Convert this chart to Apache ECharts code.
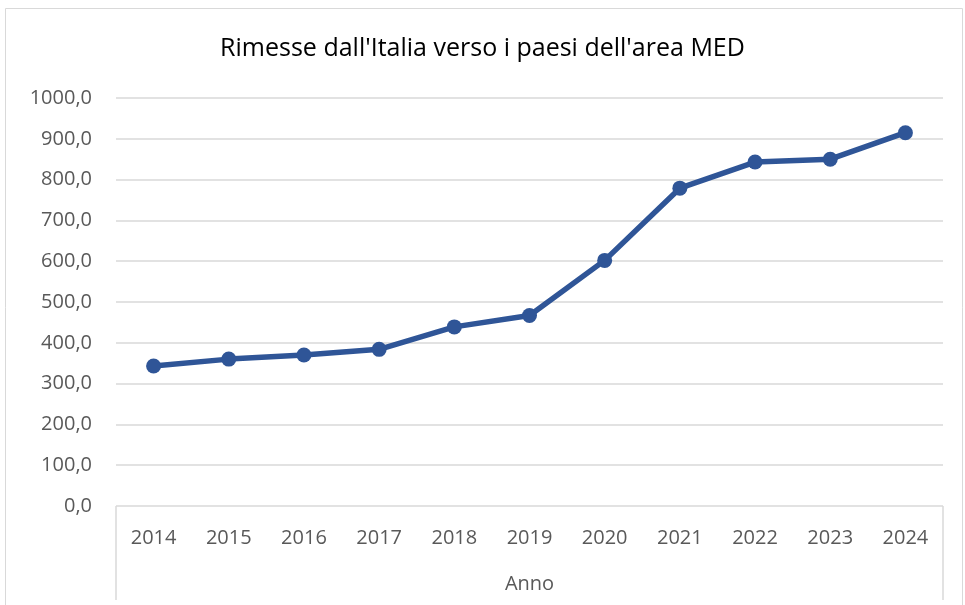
<!DOCTYPE html>
<html>
<head>
<meta charset="utf-8">
<script src="https://cdn.jsdelivr.net/npm/echarts@6/dist/echarts.min.js"></script>
<style>
  html, body { margin: 0; padding: 0; background: #fff; }
  #chart { width: 965px; height: 605px; }
</style>
</head>
<body>
<div id="chart"></div>
<script>
// dati
const anni = ['2014', '2015', '2016', '2017', '2018', '2019', '2020', '2021', '2022', '2023', '2024'];
const rimesse = [343, 360, 370, 384, 439, 467, 602, 779, 843, 850, 915];

const chart = echarts.init(document.getElementById('chart'));
const labelFont = 'Open Sans, Noto Sans, sans-serif';

const option = {
  animation: false,
  title: {
    text: "Rimesse dall'Italia verso i paesi dell'area MED",
    left: 'center',
    top: 31,
    textStyle: { fontFamily: labelFont, fontSize: 25, fontWeight: 'normal', color: '#000' }
  },
  graphic: [{
    type: 'rect',
    shape: { x: 5.5, y: 8.5, width: 957, height: 620 },
    style: { fill: 'none', stroke: '#d9d9d9', lineWidth: 1 },
    silent: true
  }],
  grid: { left: 116, right: 22, top: 98, bottom: 99 },
  xAxis: {
    type: 'category',
    data: anni,
    boundaryGap: true,
    name: 'Anno',
    nameLocation: 'middle',
    nameGap: 68,
    nameTextStyle: { fontFamily: labelFont, fontSize: 20, color: '#595959' },
    axisLine: { show: false },
    axisTick: {
      show: true,
      length: 94,
      interval: function (i) { return i === 0 || i === anni.length; },
      lineStyle: { color: '#d9d9d9', width: 1.5 }
    },
    axisLabel: { fontFamily: labelFont, fontSize: 20, color: '#595959', margin: 22 }
  },
  yAxis: {
    type: 'value',
    min: 0,
    max: 1000,
    interval: 100,
    axisLine: { show: false },
    axisTick: { show: false },
    axisLabel: {
      fontFamily: labelFont, fontSize: 20, color: '#595959', margin: 24,
      formatter: function (v) { return v.toFixed(1).replace('.', ','); }
    },
    splitLine: { lineStyle: { color: '#d9d9d9', width: 1.5 } }
  },
  series: [{
    type: 'line',
    data: rimesse,
    symbol: 'circle',
    symbolSize: 15,
    lineStyle: { color: '#2f5597', width: 5.5 },
    itemStyle: { color: '#2f5597' }
  }]
};

chart.setOption(option);
</script>
</body>
</html>
